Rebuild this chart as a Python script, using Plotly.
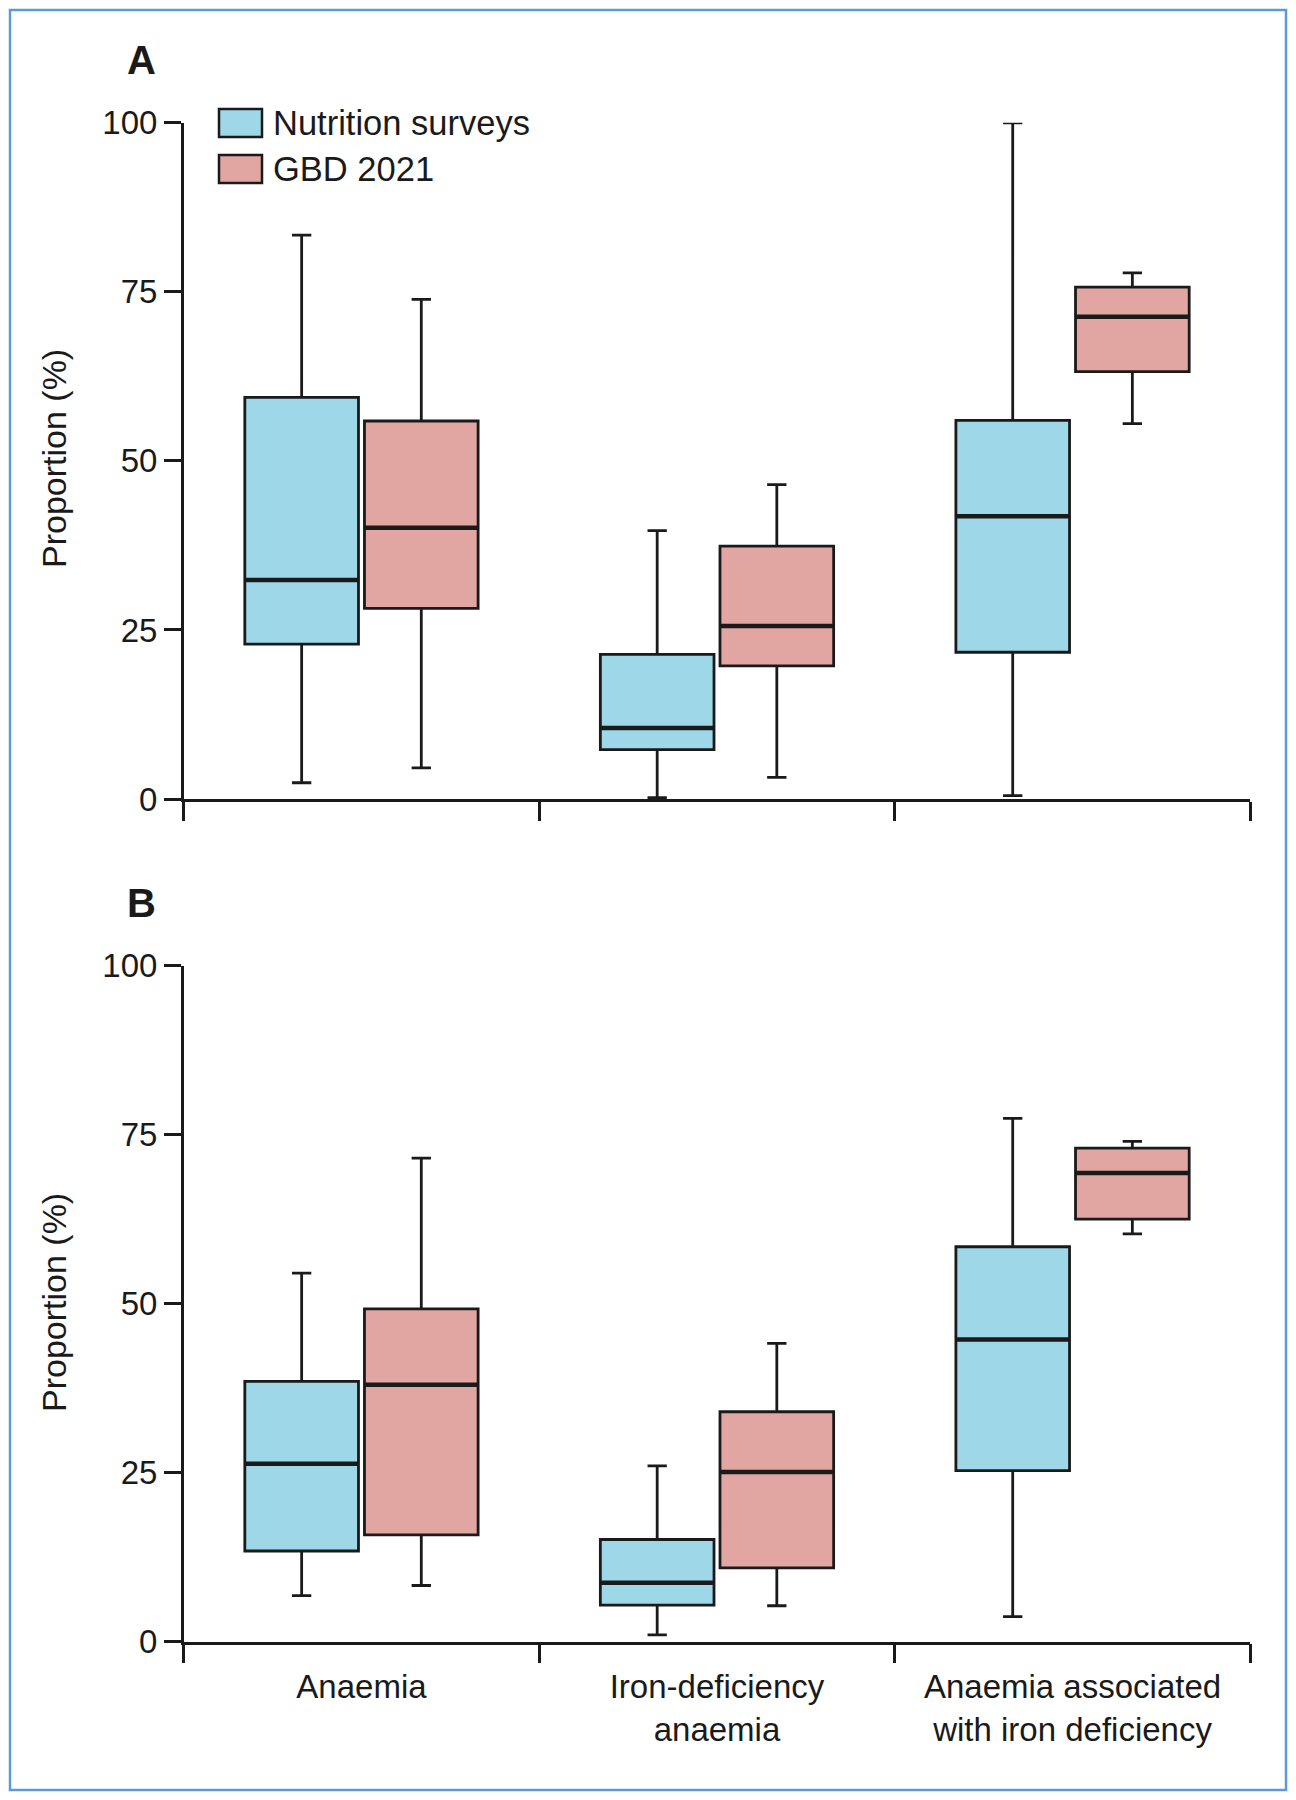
import plotly.graph_objects as go
from plotly.subplots import make_subplots

# categories on the x axis
categories = ["Anaemia", "Iron-deficiency<br>anaemia", "Anaemia associated<br>with iron deficiency"]

# Panel A: five-number summaries (lower whisker, Q1, median, Q3, upper whisker)
a_nutr_low = [2.4, 0.2, 0.5]
a_nutr_q1 = [22.9, 7.3, 21.7]
a_nutr_med = [32.4, 10.5, 41.8]
a_nutr_q3 = [59.4, 21.4, 56.0]
a_nutr_high = [83.4, 39.7, 100.0]

a_gbd_low = [4.6, 3.2, 55.5]
a_gbd_q1 = [28.2, 19.7, 63.2]
a_gbd_med = [40.1, 25.6, 71.3]
a_gbd_q3 = [55.9, 37.4, 75.7]
a_gbd_high = [73.9, 46.5, 77.8]

# Panel B
b_nutr_low = [6.8, 1.0, 3.7]
b_nutr_q1 = [13.4, 5.4, 25.3]
b_nutr_med = [26.3, 8.7, 44.7]
b_nutr_q3 = [38.5, 15.1, 58.4]
b_nutr_high = [54.5, 26.0, 77.4]

b_gbd_low = [8.3, 5.3, 60.3]
b_gbd_q1 = [15.8, 10.9, 62.5]
b_gbd_med = [38.0, 25.1, 69.3]
b_gbd_q3 = [49.2, 34.0, 73.0]
b_gbd_high = [71.5, 44.1, 74.0]

y_ticks = [0, 25, 50, 75, 100]

BLUE = "#9dd7e8"
RED = "#e2a6a2"
INK = "#1a1a1a"
FONT = "Liberation Sans Narrow, Liberation Sans, Arial, sans-serif"

W, H = 1296, 1800
OFF = 8  # page body margin, positions below are measured on the screen


def px(x):
    return (x - OFF) / W


def py(y):
    return 1 - (y - OFF) / H


fig = make_subplots(rows=2, cols=1, vertical_spacing=0.05)


def add_box(row, name, color, low, q1, med, q3, high, group):
    fig.add_trace(go.Box(
        x=categories, lowerfence=low, q1=q1, median=med, q3=q3, upperfence=high,
        name=name, fillcolor=color, line=dict(color=INK, width=2.8),
        whiskerwidth=0.17, offsetgroup=group, showlegend=False, hoverinfo="y",
    ), row=row, col=1)
    # thicker median bar drawn over the box
    fig.add_trace(go.Box(
        x=categories, lowerfence=med, q1=med, median=med, q3=med, upperfence=med,
        name=name, fillcolor="rgba(0,0,0,0)", line=dict(color=INK, width=4.5),
        whiskerwidth=0, offsetgroup=group, showlegend=False, hoverinfo="skip",
    ), row=row, col=1)


add_box(1, "Nutrition surveys", BLUE, a_nutr_low, a_nutr_q1, a_nutr_med, a_nutr_q3, a_nutr_high, "n")
add_box(1, "GBD 2021", RED, a_gbd_low, a_gbd_q1, a_gbd_med, a_gbd_q3, a_gbd_high, "g")
add_box(2, "Nutrition surveys", BLUE, b_nutr_low, b_nutr_q1, b_nutr_med, b_nutr_q3, b_nutr_high, "n")
add_box(2, "GBD 2021", RED, b_gbd_low, b_gbd_q1, b_gbd_med, b_gbd_q3, b_gbd_high, "g")

axis_common = dict(showline=True, linecolor=INK, linewidth=2.5, ticks="outside",
                   tickcolor=INK, tickwidth=2.5, showgrid=False, zeroline=False,
                   automargin=False,
                   tickfont=dict(family=FONT, size=33, color=INK))

fig.update_xaxes(domain=[px(183.7), px(1250.3)], tickson="boundaries", ticklen=19,
                 ticklabelstandoff=14, **axis_common)
fig.update_xaxes(showticklabels=False, row=1, col=1)
fig.update_yaxes(range=[0, 100], tickvals=y_ticks, ticklen=17, **axis_common)
fig.update_yaxes(domain=[py(799), py(122.8)], row=1, col=1)
fig.update_yaxes(domain=[py(1641.6), py(965.5)], row=2, col=1)

shapes = [dict(type="rect", xref="paper", yref="paper", x0=px(10), x1=px(1286),
               y0=py(1790), y1=py(10), line=dict(color="#5b9bd5", width=2.5))]
annotations = []

# legend drawn by hand so the swatches match the original size
for i, (label, color) in enumerate([("Nutrition surveys", BLUE), ("GBD 2021", RED)]):
    yc = 123 + i * 46
    shapes.append(dict(type="rect", xref="paper", yref="paper",
                       x0=px(219), x1=px(262), y0=py(yc + 14), y1=py(yc - 14),
                       fillcolor=color, line=dict(color=INK, width=2.5)))
    annotations.append(dict(text=label, xref="paper", yref="paper", x=px(271),
                            y=py(yc), xanchor="left", yanchor="middle", showarrow=False,
                            font=dict(family=FONT, size=34.5, color=INK)))

for letter, yc in [("A", 60), ("B", 903)]:
    annotations.append(dict(text="<b>" + letter + "</b>", xref="paper", yref="paper",
                            x=px(141), y=py(yc), xanchor="center", yanchor="middle",
                            showarrow=False, font=dict(family="Liberation Sans", size=40, color=INK)))

for yc in [459, 1303]:
    annotations.append(dict(text="Proportion (%)", xref="paper", yref="paper",
                            x=px(54), y=py(yc), textangle=-90, xanchor="center",
                            yanchor="middle", showarrow=False,
                            font=dict(family=FONT, size=34, color=INK)))

fig.update_layout(
    width=W, height=H,
    margin=dict(l=0, r=0, t=0, b=0),
    paper_bgcolor="white", plot_bgcolor="white",
    boxmode="group", boxgap=0.327, boxgroupgap=0.05,
    shapes=shapes, annotations=annotations,
    showlegend=False,
)

fig.write_html("out.html")
